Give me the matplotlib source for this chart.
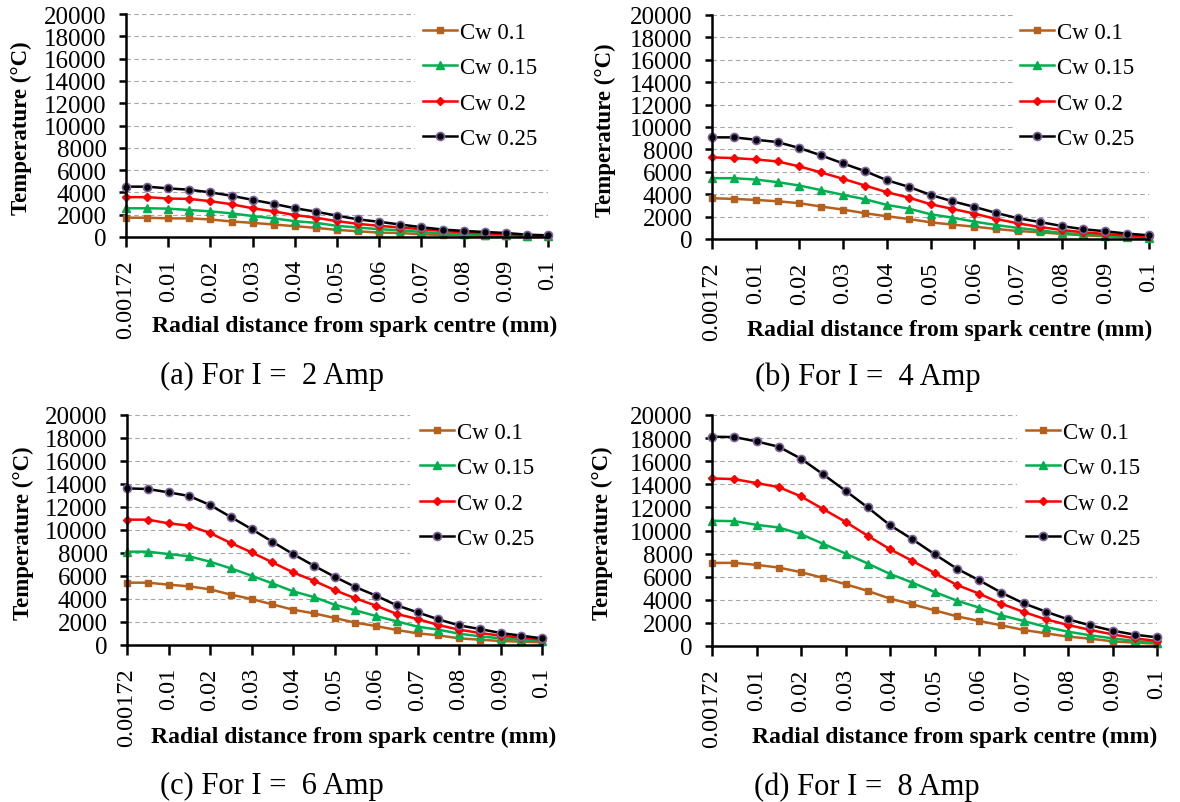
import matplotlib
matplotlib.use("Agg")
import matplotlib.pyplot as plt
from matplotlib.patches import Rectangle

# ---------------- data ----------------
distances = ['0.00172', '0.005', '0.01', '0.015', '0.02', '0.025', '0.03', '0.035',
             '0.04', '0.045', '0.05', '0.055', '0.06', '0.065', '0.07', '0.075',
             '0.08', '0.085', '0.09', '0.095', '0.1']
series_names = ['Cw 0.1', 'Cw 0.15', 'Cw 0.2', 'Cw 0.25']
y_ticks = [0, 2000, 4000, 6000, 8000, 10000, 12000, 14000, 16000, 18000, 20000]
captions = ['(a) For I =  2 Amp', '(b) For I =  4 Amp', '(c) For I =  6 Amp', '(d) For I =  8 Amp']

a_cw010 = [1730, 1730, 1670, 1670, 1575, 1390, 1270, 1120, 970, 820, 640, 515, 390, 360, 240, 180, 150, 90, 60, 30, 30]
a_cw015 = [2575, 2575, 2545, 2420, 2300, 2120, 1880, 1670, 1420, 1270, 1000, 850, 700, 600, 450, 330, 270, 210, 150, 90, 60]
a_cw020 = [3575, 3575, 3450, 3420, 3210, 2940, 2575, 2300, 1970, 1730, 1420, 1180, 1000, 850, 700, 545, 420, 330, 240, 150, 90]
a_cw025 = [4515, 4515, 4360, 4240, 4000, 3700, 3330, 2970, 2580, 2270, 1910, 1580, 1360, 1120, 880, 670, 545, 450, 360, 210, 150]

b_cw010 = [3640, 3580, 3490, 3370, 3195, 2895, 2625, 2300, 2030, 1790, 1490, 1285, 1105, 895, 715, 600, 450, 330, 240, 150, 90]
b_cw015 = [5430, 5430, 5310, 5075, 4775, 4360, 3940, 3550, 3045, 2715, 2210, 1910, 1550, 1250, 985, 775, 540, 420, 300, 210, 120]
b_cw020 = [7285, 7225, 7105, 6925, 6480, 5940, 5370, 4775, 4180, 3700, 3105, 2690, 2270, 1790, 1400, 1075, 805, 600, 450, 300, 180]
b_cw025 = [9075, 9075, 8865, 8655, 8120, 7460, 6745, 6060, 5250, 4660, 3940, 3370, 2870, 2330, 1850, 1520, 1160, 870, 690, 480, 330]

c_cw010 = [5420, 5420, 5245, 5100, 4840, 4380, 4000, 3535, 3070, 2755, 2350, 1940, 1650, 1305, 1015, 840, 580, 460, 350, 290, 230]
c_cw015 = [8115, 8115, 7910, 7710, 7245, 6665, 6030, 5360, 4670, 4170, 3510, 3015, 2520, 2060, 1595, 1335, 985, 755, 580, 460, 320]
c_cw020 = [10900, 10900, 10580, 10375, 9740, 8870, 8060, 7190, 6320, 5590, 4780, 4060, 3420, 2700, 2260, 1740, 1335, 1045, 810, 640, 460]
c_cw025 = [13620, 13565, 13275, 12955, 12175, 11130, 10085, 8985, 7910, 6900, 5940, 5045, 4290, 3450, 2840, 2230, 1710, 1390, 1045, 810, 580]

d_cw010 = [7195, 7195, 7025, 6790, 6390, 5895, 5350, 4770, 4100, 3610, 3090, 2570, 2170, 1790, 1390, 1100, 810, 635, 405, 290, 200]
d_cw015 = [10840, 10810, 10490, 10260, 9680, 8845, 8005, 7140, 6240, 5490, 4680, 3930, 3325, 2660, 2170, 1650, 1240, 925, 665, 435, 290]
d_cw020 = [14510, 14450, 14105, 13760, 12950, 11850, 10750, 9540, 8380, 7370, 6330, 5290, 4540, 3670, 2950, 2310, 1820, 1390, 1010, 665, 435]
d_cw025 = [18120, 18090, 17715, 17250, 16215, 14855, 13440, 11995, 10460, 9250, 7950, 6705, 5695, 4625, 3700, 2975, 2310, 1790, 1330, 980, 750]

panels_data = [
    [a_cw010, a_cw015, a_cw020, a_cw025],
    [b_cw010, b_cw015, b_cw020, b_cw025],
    [c_cw010, c_cw015, c_cw020, c_cw025],
    [d_cw010, d_cw015, d_cw020, d_cw025],
]

# ---------------- style ----------------
W, H = 1180, 803
plt.rcParams['font.family'] = ['Liberation Serif', 'DejaVu Serif']

styles = [
    dict(color='#B5601C', marker='s', markersize=5, markerfacecolor='#B5601C', markeredgecolor='#B5601C'),
    dict(color='#00B050', marker='^', markersize=6, markerfacecolor='#00B050', markeredgecolor='#00B050'),
    dict(color='#FF0000', marker='D', markersize=4.3, markerfacecolor='#FF0000', markeredgecolor='#FF0000'),
    dict(color='#000000', marker='o', markersize=5.8, markerfacecolor='#000000', markeredgecolor='#8064A2',
         markeredgewidth=1.2),
]

# axes boxes in pixels: left, right, top, bottom
boxes = [
    (126, 548, 15, 238),
    (712, 1149, 16, 240),
    (127, 542, 416, 646),
    (712, 1157, 416, 647),
]
# legend: handle-left x, first row top y
leg_pos = [(423, 23), (1020, 23), (420, 423), (1026, 423)]
# white legend background: left x, bottom y (pixels)
leg_bg = [(415, 161), (1013, 163), (410, 566), (1017, 567)]
ylabel_x = [21, 605, 23, 602]
xlabel_pos = [(354.5, 326), (950, 330), (354, 737), (955, 737)]
caption_pos = [(272, 376), (868, 377), (272, 786), (867, 787)]

fig = plt.figure(figsize=(W / 100, H / 100), dpi=100)

for i, (l, r, t, b) in enumerate(boxes):
    ax = fig.add_axes([l / W, 1 - b / H, (r - l) / W, (b - t) / H])
    xs = list(range(len(distances)))
    for name, vals, st in zip(series_names, panels_data[i], styles):
        ax.plot(xs, vals, label=name, linewidth=1.8, zorder=3, clip_on=False, **st)
    ax.set_xlim(0, len(distances) - 1)
    ax.set_ylim(0, 20000)
    ax.set_yticks(y_ticks)
    ax.set_yticklabels([str(v) for v in y_ticks])
    ax.set_xticks(xs[::2])
    ax.set_xticklabels(distances[::2], rotation=90)
    for s in ['top', 'right']:
        ax.spines[s].set_visible(False)
    for s in ['left', 'bottom']:
        ax.spines[s].set_linewidth(1.8)
        ax.spines[s].set_color('black')
        ax.spines[s].set_zorder(4)
    ax.tick_params(axis='y', direction='out', length=5, width=1.8, labelsize=18, pad=9)
    ax.tick_params(axis='x', direction='out', length=7, width=1.8, labelsize=17.5, pad=9)
    ax.yaxis.grid(True, color='#A6A6A6', linestyle=(0, (4, 3)), linewidth=0.8)
    ax.set_axisbelow(True)
    ax.patch.set_alpha(0)

    # white background behind the legend (covers gridlines)
    bx, by = leg_bg[i]
    x0 = (bx - l) / (r - l)
    y0 = (b - by) / (b - t)
    ax.add_patch(Rectangle((x0, y0), 1.02 - x0, 1.03 - y0, transform=ax.transAxes,
                           facecolor='white', edgecolor='none', zorder=1.8, clip_on=False))

    lx, ly = leg_pos[i]
    ax.legend(loc='upper left', bbox_to_anchor=(lx / W, 1 - ly / H), bbox_transform=fig.transFigure,
              frameon=False, borderpad=0, borderaxespad=0, handlelength=1.48, handletextpad=0.12,
              labelspacing=0.62, prop={'size': 16.5})

    fig.text(ylabel_x[i] / W, 1 - ((t + b) / 2 + 2) / H, 'Temperature (°C)', rotation=90,
             ha='center', va='center', fontsize=16.5, fontweight='bold')
    xlx, xly = xlabel_pos[i]
    fig.text(xlx / W, 1 - xly / H, 'Radial distance from spark centre (mm)', ha='center', va='center',
             fontsize=17, fontweight='bold')
    cx, cy = caption_pos[i]
    fig.text(cx / W, 1 - cy / H, captions[i], ha='center', va='center', fontsize=22)

fig.savefig('out.png', dpi=100)
